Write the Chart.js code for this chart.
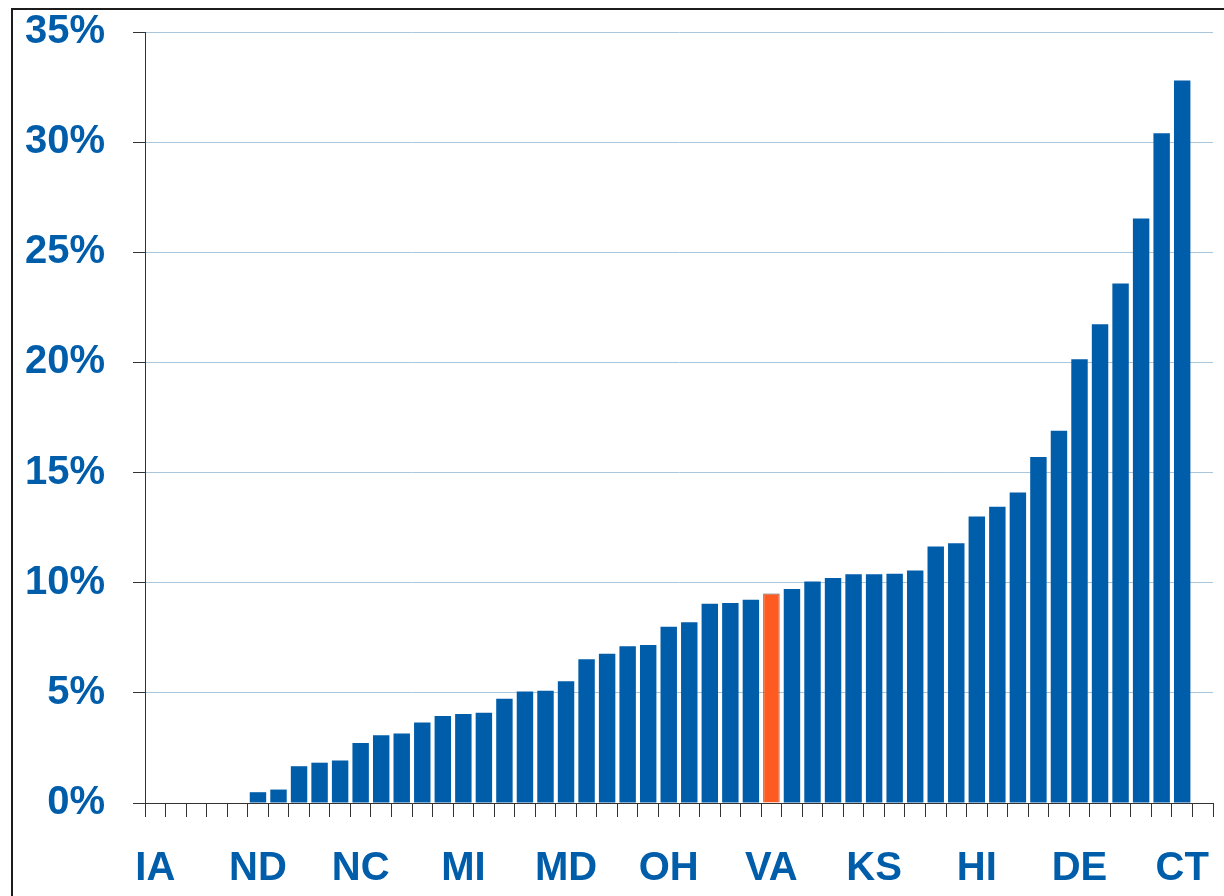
<!DOCTYPE html>
<html>
<head>
<meta charset="utf-8">
<script src="https://cdn.jsdelivr.net/npm/chart.js@4/dist/chart.umd.min.js"></script>
<style>
    body { margin: 0; background: #fff; }
    #wrap { position: relative; width: 1224px; height: 896px; overflow: hidden; }
    #frame { position: absolute; left: 11px; top: 8px; width: 1300px; height: 1000px;
             border-left: 2px solid #1c1c1c; border-top: 2px solid #1c1c1c; pointer-events: none; }
</style>
</head>
<body>
<div id="wrap">
    <canvas id="stateChart" width="1224" height="896"></canvas>
    <div id="frame"></div>
</div>
<script>
// one slot per state, only every fifth one is labelled; last slot stays empty
const stateLabels = [
    'IA', '', '', '', '', 'ND', '', '', '', '',
    'NC', '', '', '', '', 'MI', '', '', '', '',
    'MD', '', '', '', '', 'OH', '', '', '', '',
    'VA', '', '', '', '', 'KS', '', '', '', '',
    'HI', '', '', '', '', 'DE', '', '', '', '',
    'CT', ''
];

// percent values, left to right
const shareValues = [
    0, 0, 0, 0, 0, 0.49, 0.61, 1.67, 1.83, 1.93,
    2.72, 3.07, 3.16, 3.65, 3.95, 4.04, 4.1, 4.73, 5.06, 5.1,
    5.53, 6.53, 6.77, 7.12, 7.17, 8.0, 8.2, 9.04, 9.08, 9.23,
    9.51, 9.71, 10.06, 10.21, 10.38, 10.38, 10.41, 10.56, 11.64, 11.79,
    13.01, 13.45, 14.09, 15.71, 16.9, 20.14, 21.73, 23.58, 26.53, 30.4,
    32.8, null
];

const yTicks = [0, 5, 10, 15, 20, 25, 30, 35];
const highlightState = 'VA';

const blue = '#005DAA';
const orange = '#FF5A1F';

const barColors = stateLabels.map(s => s === highlightState ? orange : blue);
const barBorders = stateLabels.map(s => s === highlightState ? '#555555' : blue);
const barBorderWidths = stateLabels.map(s => s === highlightState ? 1 : 0);

const labelFont = { family: "'Liberation Sans', Arial, sans-serif", size: 40, weight: 'bold' };

let ctx = document.getElementById('stateChart').getContext('2d');
new Chart(ctx, {
    type: 'bar',
    data: {
        labels: stateLabels,
        datasets: [{
            data: shareValues,
            backgroundColor: barColors,
            borderColor: barBorders,
            borderWidth: barBorderWidths,
            barPercentage: 0.8,
            categoryPercentage: 1.0
        }]
    },
    options: {
        responsive: false,
        animation: false,
        layout: {
            padding: { top: 32, right: 11, left: 0, bottom: 0 }
        },
        plugins: {
            legend: { display: false },
            tooltip: { enabled: false }
        },
        scales: {
            x: {
                grid: {
                    offset: true,
                    drawOnChartArea: false,
                    drawTicks: true,
                    tickLength: 14,
                    color: '#333333',
                    lineWidth: 1
                },
                border: { display: true, color: '#333333', width: 1 },
                ticks: {
                    autoSkip: false,
                    maxRotation: 0,
                    minRotation: 0,
                    padding: 28,
                    color: blue,
                    font: labelFont
                },
                afterFit: (scale) => {
                    scale.height = 93;
                    scale.paddingLeft = 0;
                    scale.paddingRight = 0;
                }
            },
            y: {
                min: 0,
                max: 35,
                afterBuildTicks: (scale) => {
                    scale.ticks = yTicks.map(v => ({ value: v }));
                },
                grid: {
                    drawTicks: true,
                    tickLength: 12,
                    color: '#A9C7DC',
                    tickColor: '#333333',
                    lineWidth: 1
                },
                border: { display: true, color: '#333333', width: 1 },
                ticks: {
                    padding: 28,
                    color: blue,
                    font: labelFont,
                    callback: (value) => value + '%'
                },
                afterFit: (scale) => {
                    scale.width = 145;
                    scale.paddingTop = 0;
                    scale.paddingBottom = 0;
                }
            }
        }
    }
});
</script>
</body>
</html>
